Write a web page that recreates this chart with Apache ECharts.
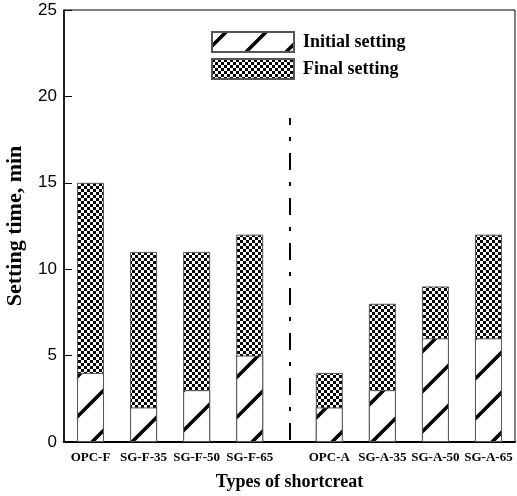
<!DOCTYPE html>
<html>
<head>
<meta charset="utf-8">
<script src="https://cdn.jsdelivr.net/npm/echarts@6/dist/echarts.min.js"></script>
<style>html,body{margin:0;padding:0;background:#fff;}#chart{width:517px;height:496px;}</style>
</head>
<body>
<div id="chart"></div>
<script>
const categories = ['OPC-F', 'SG-F-35', 'SG-F-50', 'SG-F-65', 'OPC-A', 'SG-A-35', 'SG-A-50', 'SG-A-65'];
const xPositions = [1, 2, 3, 4, 5.5, 6.5, 7.5, 8.5];
const initialSetting = [4, 2, 3, 5, 2, 3, 6, 6];
const finalSetting = [15, 11, 11, 12, 4, 8, 9, 12];
const yTicks = [0, 5, 10, 15, 20, 25];
const separatorX = 4.75;
const separatorTop = 18.75;

function hatchPattern() {
  const c = document.createElement('canvas');
  c.width = 40; c.height = 40;
  const g = c.getContext('2d');
  g.fillStyle = '#fff'; g.fillRect(0, 0, 40, 40);
  g.strokeStyle = '#000'; g.lineWidth = 3.6;
  for (let k = -1; k <= 2; k++) {
    const s = 14 + 40 * k;
    g.beginPath(); g.moveTo(s - 60, 60); g.lineTo(s + 20, -20); g.stroke();
  }
  return { image: c, repeat: 'repeat' };
}
function checkPattern() {
  const c = document.createElement('canvas');
  c.width = 6; c.height = 6;
  const g = c.getContext('2d');
  g.fillStyle = '#fff'; g.fillRect(0, 0, 6, 6);
  g.fillStyle = '#000'; g.fillRect(0, 0, 3, 3); g.fillRect(3, 3, 3, 3);
  return { image: c, repeat: 'repeat' };
}

const chart = echarts.init(document.getElementById('chart'), null, { renderer: 'canvas' });
const serif = "'Liberation Serif', 'Times New Roman', serif";
const sans = "'Liberation Sans', Arial, sans-serif";

const option = {
  animation: false,
  backgroundColor: '#fff',
  grid: { left: 64, right: 2, top: 10, bottom: 54, show: true, borderColor: '#000', borderWidth: 1, outerBoundsMode: 'none', containLabel: false },
  legend: {
    orient: 'vertical', left: 211, top: 31, itemWidth: 82, itemHeight: 20, itemGap: 5,
    icon: 'rect', padding: 0,
    textStyle: { fontFamily: serif, fontWeight: 'bold', fontSize: 18, color: '#000', padding: [0, 0, 0, 4] },
    data: ['Initial setting', 'Final setting']
  },
  xAxis: {
    type: 'value', min: 0.5, max: 9,
    name: 'Types of shortcreat', nameLocation: 'middle', nameGap: 31,
    nameTextStyle: { fontFamily: serif, fontWeight: 'bold', fontSize: 18, color: '#000' },
    axisLine: { show: true, lineStyle: { color: '#000', width: 2 } },
    axisTick: { show: false },
    splitLine: { show: false },
    axisLabel: {
      customValues: xPositions,
      formatter: v => { const i = xPositions.indexOf(v); return i >= 0 ? categories[i] : ''; },
      fontFamily: serif, fontWeight: 'bold', fontSize: 13, color: '#000', margin: 9
    }
  },
  yAxis: {
    type: 'value', min: yTicks[0], max: yTicks[yTicks.length - 1], interval: 5,
    name: 'Setting time, min', nameLocation: 'middle', nameGap: 38, nameRotate: 90,
    nameTextStyle: { fontFamily: serif, fontWeight: 'bold', fontSize: 22, color: '#000' },
    axisLine: { show: true, lineStyle: { color: '#000', width: 1.5 } },
    axisTick: { show: true, inside: true, length: 8, lineStyle: { color: '#000', width: 1 } },
    splitLine: { show: false },
    axisLabel: { fontFamily: sans, fontSize: 17, color: '#000', margin: 7 }
  },
  series: [
    {
      name: 'Final setting', type: 'bar', barWidth: 27, barGap: '-100%',
      itemStyle: { color: checkPattern(), borderColor: '#555', borderWidth: 1 },
      data: xPositions.map((x, i) => [x, finalSetting[i]]),
      markLine: {
        silent: true, symbol: ['none', 'none'], label: { show: false },
        lineStyle: { color: '#000', width: 2, type: [17, 12, 4, 12], dashOffset: 10 },
        data: [[{ coord: [separatorX, separatorTop] }, { coord: [separatorX, 0] }]]
      }
    },
    {
      name: 'Initial setting', type: 'bar', barWidth: 27, barGap: '-100%',
      itemStyle: { color: hatchPattern(), borderColor: '#555', borderWidth: 1 },
      data: xPositions.map((x, i) => [x, initialSetting[i]])
    }
  ]
};
chart.setOption(option);
</script>
</body>
</html>
